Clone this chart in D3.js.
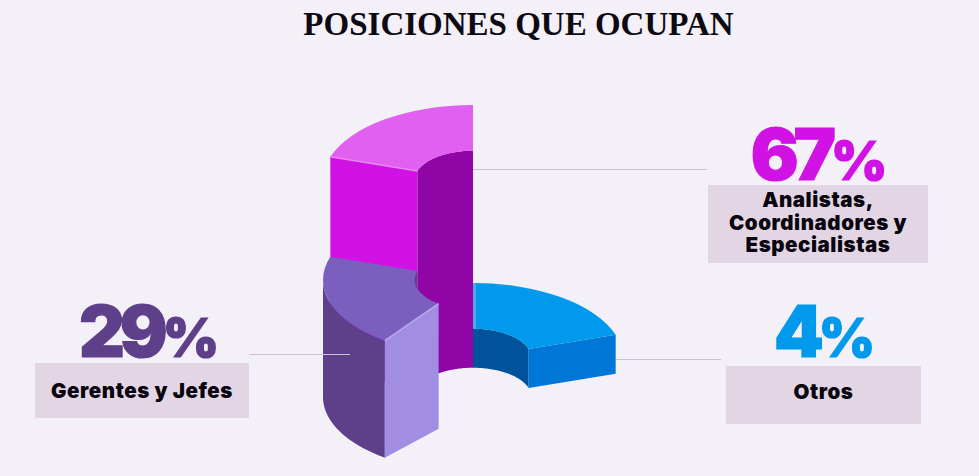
<!DOCTYPE html>
<html>
<head>
<meta charset="utf-8">
<script src="https://cdn.jsdelivr.net/npm/d3@7"></script>
<style>
  html, body { margin: 0; padding: 0; background: #f4f0f8; }
  svg { display: block; }
  .title { font-family: 'Liberation Serif', serif; font-weight: 700; }
  .num { font-family: Inter, sans-serif; font-weight: 900; stroke-width: 1.2px; }
  .lab { font-family: Inter, sans-serif; font-weight: 900; fill: #0a0610; letter-spacing: 0.55px; }
</style>
</head>
<body>
<div id="chart"></div>
<script>
const titleText = 'POSICIONES QUE OCUPAN'
const shares = [67, 29, 4]
const categoryLines = [
  ['Analistas,', 'Coordinadores y', 'Especialistas'],
  ['Gerentes y Jefes'],
  ['Otros']
]

;(function init() {
  const width = 979
  const height = 476
  const cx = 473
  const baseY = 397
  const outerR = 150
  const innerR = 58.5
  const tilt = 0.5

  // ring has five equal slots, slices sit in the slots seen in the picture
  const angle = d3.scaleLinear().domain([0, 5]).range([0, 2 * Math.PI])
  // extrusion is not proportional to the share in the original
  const extrude = d3.scaleLinear().domain([4, 29, 67]).range([39, 117, 217])

  const svg = d3
    .select('#chart')
    .append('svg')
    .attr('width', width)
    .attr('height', height)

  svg
    .append('text')
    .attr('class', 'title')
    .attr('x', 518.5)
    .attr('y', 35)
    .attr('text-anchor', 'middle')
    .style('font-size', '33px')
    .attr('fill', '#0d0a12')
    .text(titleText)

  const project = (r, a, z) => [
    cx + r * Math.sin(a),
    baseY - z - r * Math.cos(a) * tilt
  ]
  const line = d3.line()
  const arc = d3.arc()

  function topFace(h, a0, a1, fill) {
    svg
      .append('path')
      .attr('transform', `translate(${cx},${baseY - h}) scale(1,${tilt})`)
      .attr(
        'd',
        arc({ innerRadius: innerR, outerRadius: outerR, startAngle: a0, endAngle: a1 })
      )
      .attr('fill', fill)
  }

  function curvedWall(r, a0, a1, h, fill) {
    const t = d3.scaleLinear().domain([0, 48]).range([a0, a1])
    const top = d3.range(49).map((i) => project(r, t(i), h))
    const bottom = d3.range(48, -1, -1).map((i) => project(r, t(i), 0))
    svg
      .append('path')
      .attr('d', line(top.concat(bottom)) + 'Z')
      .attr('fill', fill)
  }

  // innerDrop: the purple face's inner corner hangs a bit lower in the original
  function cutFace(a, h, fill, innerDrop = 0) {
    const pts = [
      project(innerR, a, h),
      project(outerR, a, h),
      project(outerR, a, 0),
      project(innerR, a, -innerDrop)
    ]
    svg
      .append('path')
      .attr('d', line(pts) + 'Z')
      .attr('fill', fill)
  }

  function edge(r0, r1, a, h, stroke, w) {
    svg
      .append('path')
      .attr('d', line([project(r0, a, h), project(r1, a, h)]))
      .attr('stroke', stroke)
      .attr('stroke-width', w)
      .attr('fill', 'none')
  }

  // blue, Otros
  const hBlue = extrude(shares[2])
  curvedWall(innerR, angle(0), angle(1), hBlue, '#00529b')
  cutFace(angle(1), hBlue, '#0077d6')
  topFace(hBlue, angle(0), angle(1), '#0099ec')
  svg
    .append('path')
    .attr('d', line([project(innerR, 0, hBlue), project(outerR, 0, hBlue)]))
    .attr('transform', 'translate(1.5,0)')
    .attr('stroke', '#4fa9e8')
    .attr('stroke-width', 3)

  // magenta, Analistas
  const hPink = extrude(shares[0])
  curvedWall(innerR, angle(-1), angle(0), hPink, '#9005a5')
  cutFace(angle(-1), hPink, '#d112e4')
  topFace(hPink, angle(-1), angle(0), '#e060ef')
  edge(innerR, outerR, angle(-1), hPink, '#ea85f4', 1.5)

  // purple, Gerentes
  const hPurple = extrude(shares[1])
  curvedWall(innerR, angle(-1), -Math.PI / 2, hPurple, '#5e3f8a')
  curvedWall(outerR, -Math.PI / 2, angle(-2), hPurple, '#5e3f8a')
  topFace(hPurple, angle(-2), angle(-1), '#7b5fbe')
  cutFace(angle(-2), hPurple, '#a18de1', 8)
  edge(innerR, outerR, angle(-2), hPurple, '#bcaaf0', 1.5)

  // leader lines
  const leaders = [
    [473, 707, 169.5],
    [616, 721, 359.5],
    [249, 350, 354.5]
  ]
  svg
    .selectAll('line.leader')
    .data(leaders)
    .enter()
    .append('line')
    .attr('class', 'leader')
    .attr('x1', (d) => d[0])
    .attr('x2', (d) => d[1])
    .attr('y1', (d) => d[2])
    .attr('y2', (d) => d[2])
    .attr('stroke', '#c9c2cf')
    .attr('stroke-width', 1)

  // callouts in the same order as shares
  const callouts = [
    { box: [708, 185, 220, 78], color: '#d112e4', numX: 819, numY: 180, labY: 207 },
    { box: [35, 363, 214, 55], color: '#5e3f8a', numX: 149, numY: 357, labY: 398 },
    { box: [726, 366, 195, 58], color: '#0099ec', numX: 824.5, numY: 357, labY: 399 }
  ]

  callouts.forEach((c, i) => {
    const mid = c.box[0] + c.box[2] / 2
    svg
      .append('rect')
      .attr('x', c.box[0])
      .attr('y', c.box[1])
      .attr('width', c.box[2])
      .attr('height', c.box[3])
      .attr('fill', '#e3d6e4')

    const num = svg
      .append('text')
      .attr('class', 'num')
      .attr('x', c.numX)
      .attr('y', c.numY)
      .attr('text-anchor', 'middle')
      .attr('fill', c.color)
      .attr('stroke', c.color)
    num
      .append('tspan')
      .style('font-size', '71px')
      .style('letter-spacing', '-5px')
      .text(shares[i])
    num.append('tspan').style('font-size', '54px').text('%')

    svg
      .selectAll(null)
      .data(categoryLines[i])
      .enter()
      .append('text')
      .attr('class', 'lab')
      .attr('x', mid)
      .attr('y', (d, j) => c.labY + j * 22.5)
      .attr('text-anchor', 'middle')
      .style('font-size', '20.5px')
      .text((d) => d)
  })
})()
</script>
</body>
</html>
